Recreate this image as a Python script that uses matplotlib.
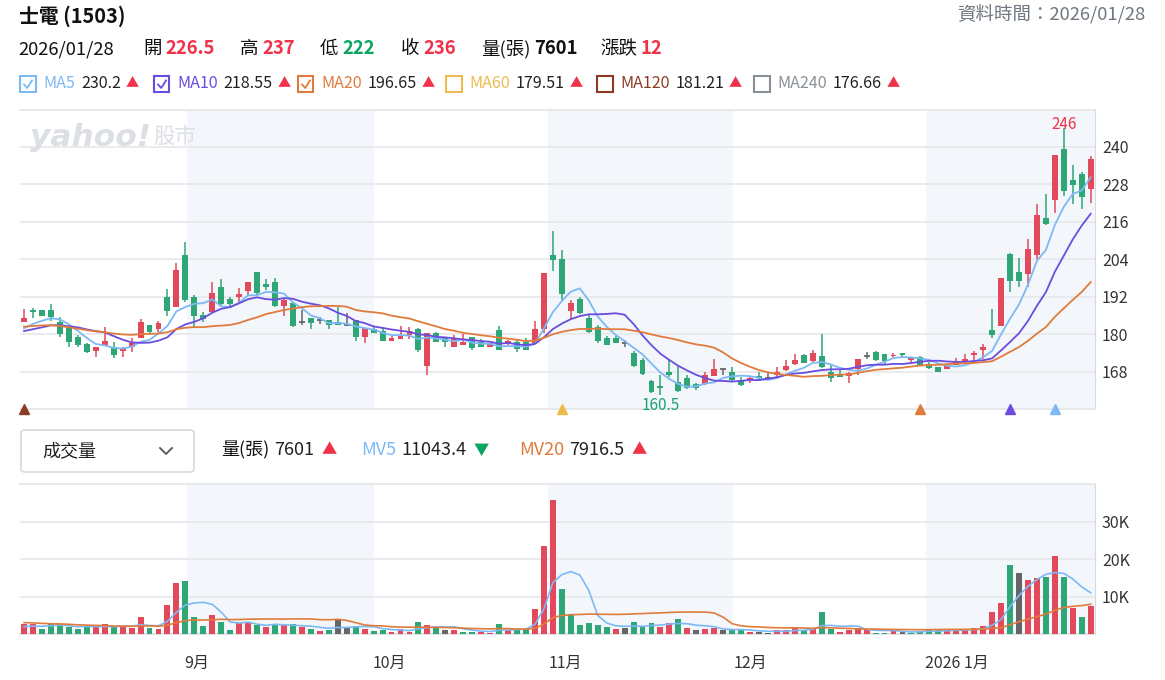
import matplotlib
matplotlib.use('Agg')
import matplotlib.pyplot as plt
import numpy as np
import pandas as pd
from matplotlib.patches import Rectangle, FancyBboxPatch
from matplotlib.lines import Line2D

plt.rcParams['font.family'] = ['Noto Sans CJK TC', 'DejaVu Sans']

W, H = 1165, 680

RED = '#E2495A'
GREEN = '#2FA676'
GRAY = '#666666'
MA_COLORS = {'MA5': '#7DB9F5', 'MA10': '#6B4CE0', 'MA20': '#E07B3C',
             'MA60': '#EDBB4C', 'MA120': '#8E3B22', 'MA240': '#8A8F96'}

# daily candles, 2025/08 .. 2026/01/28
opens = [183.8, 187.7, 187.6, 187.7, 184.0, 181.9, 179.2, 176.8, 174.6, 176.5,
         175.8, 174.6, 175.8, 178.9, 183.1, 181.7, 192.0, 188.6, 205.3, 192.0,
         186.1, 187.0, 195.2, 191.3, 191.8, 193.8, 200.0, 196.1, 196.8, 189.0,
         190.1, 184.0, 185.1, 184.5, 184.7, 184.0, 182.9, 184.7, 179.2, 181.7,
         181.1, 177.8, 178.6, 179.7, 181.7, 169.8, 180.3, 178.7, 175.8, 176.5,
         179.2, 177.6, 175.8, 181.3, 176.9, 177.4, 177.4, 177.1, 181.6, 205.3,
         204.1, 187.5, 191.3, 185.3, 182.2, 178.9, 178.9, 177.1, 174.1, 171.9,
         165.1, 163.4, 168.0, 164.8, 165.9, 164.1, 164.0, 166.7, 168.9, 167.8,
         165.5, 165.3, 166.7, 166.0, 166.9, 168.5, 170.5, 173.4, 171.5, 173.1,
         167.8, 167.2, 166.6, 168.9, 173.1, 174.2, 173.7, 173.0, 174.0, 171.7,
         172.6, 170.5, 169.4, 168.9, 170.0, 171.0, 173.3, 174.9, 181.3, 182.6,
         205.7, 200.0, 199.3, 205.3, 217.3, 222.9, 239.3, 229.3, 231.3, 226.5]
highs = [188.1, 188.5, 187.6, 189.7, 185.6, 182.4, 179.7, 177.1, 176.0, 182.4,
         177.6, 176.0, 178.7, 184.9, 183.1, 184.2, 194.5, 202.9, 209.6, 192.7,
         187.2, 196.8, 197.6, 192.0, 194.9, 196.8, 200.0, 197.6, 198.1, 191.5,
         190.1, 187.7, 185.1, 185.6, 184.7, 188.8, 186.9, 184.7, 181.9, 182.4,
         182.4, 179.7, 182.6, 182.4, 181.9, 180.3, 180.8, 178.7, 179.8, 180.0,
         179.2, 178.4, 177.3, 182.6, 178.1, 178.1, 178.7, 184.2, 199.7, 213.0,
         207.0, 190.9, 192.0, 186.1, 182.9, 179.5, 179.5, 178.1, 174.6, 172.3,
         165.3, 166.9, 172.0, 169.8, 166.9, 164.5, 168.0, 172.1, 168.9, 169.6,
         166.4, 166.4, 168.0, 167.7, 169.6, 171.7, 173.6, 173.6, 175.0, 180.0,
         170.1, 168.5, 168.0, 172.1, 174.4, 174.6, 173.7, 174.1, 174.0, 172.6,
         173.0, 171.2, 169.6, 170.1, 172.3, 173.6, 174.6, 176.8, 188.0, 198.1,
         206.1, 204.5, 210.5, 221.7, 224.9, 237.3, 246.0, 234.1, 231.8, 237.0]
lows = [183.8, 185.1, 185.9, 184.3, 179.2, 176.0, 175.8, 173.9, 172.8, 176.2,
        172.3, 172.6, 174.2, 178.9, 180.3, 180.8, 185.9, 188.6, 190.4, 182.4,
        183.8, 186.7, 189.3, 188.3, 190.4, 192.5, 192.5, 194.1, 188.8, 185.8,
        182.4, 182.9, 181.7, 183.2, 181.7, 182.9, 182.9, 177.8, 177.1, 180.3,
        177.8, 177.8, 178.6, 178.4, 174.2, 166.9, 177.4, 175.8, 175.8, 176.5,
        175.1, 175.8, 175.8, 174.9, 176.5, 174.2, 174.9, 177.1, 180.3, 200.2,
        191.0, 184.8, 186.5, 180.3, 177.1, 176.5, 177.1, 175.8, 169.6, 166.9,
        161.3, 160.5, 166.4, 161.6, 162.4, 162.1, 163.7, 166.7, 166.9, 165.1,
        163.4, 164.5, 165.3, 165.8, 166.2, 168.2, 170.2, 170.7, 171.2, 169.1,
        164.8, 166.2, 164.5, 166.9, 172.0, 171.5, 170.5, 172.6, 172.3, 170.7,
        170.1, 168.9, 167.8, 168.9, 170.0, 170.5, 170.7, 172.0, 178.9, 182.6,
        193.6, 195.0, 195.0, 204.0, 215.0, 218.9, 224.3, 221.7, 220.1, 222.0]
closes = [185.3, 187.0, 185.9, 185.6, 180.0, 177.4, 176.5, 174.4, 176.0, 177.8,
          173.3, 175.5, 177.3, 184.0, 180.8, 183.7, 187.4, 200.7, 190.9, 185.8,
          184.9, 193.3, 189.7, 189.6, 192.9, 196.8, 193.3, 195.0, 189.0, 190.9,
          182.7, 184.0, 183.5, 184.5, 182.9, 182.9, 182.9, 179.2, 181.9, 180.5,
          177.8, 178.9, 179.5, 181.1, 174.9, 180.3, 177.4, 177.4, 178.7, 177.4,
          175.5, 175.8, 177.1, 174.9, 177.8, 175.3, 174.9, 181.7, 199.7, 203.7,
          192.9, 190.1, 186.9, 180.6, 177.8, 176.5, 177.1, 177.1, 169.8, 167.3,
          161.6, 162.7, 166.9, 161.8, 162.7, 162.7, 166.9, 168.9, 168.9, 165.3,
          163.7, 166.0, 166.0, 166.0, 168.0, 169.8, 171.7, 170.7, 173.9, 169.4,
          165.9, 166.4, 167.5, 172.1, 173.1, 171.7, 171.5, 173.5, 173.5, 172.6,
          170.1, 169.1, 167.8, 169.8, 171.5, 172.1, 174.1, 175.8, 179.7, 198.1,
          197.0, 197.0, 207.3, 218.1, 215.2, 237.3, 225.9, 227.7, 224.0, 236.0]
volumes = [2680, 2680, 1340, 2590, 2680, 1790, 1340, 1790, 2320, 2680,
           1790, 1790, 1700, 4470, 1700, 1340, 7770, 13750, 14200, 4470,
           2140, 5090, 3300, 1070, 3040, 3300, 2410, 1790, 2410, 2320,
           2680, 1790, 1340, 800, 1070, 3750, 1790, 2140, 1340, 800,
           1070, 625, 1340, 625, 3300, 2410, 1960, 980, 980, 625,
           625, 625, 360, 2680, 980, 1250, 1250, 6700, 23570, 35900,
           12060, 5090, 2320, 3040, 2320, 1960, 1340, 1700, 3300, 1960,
           3040, 1960, 3040, 4020, 1700, 980, 1340, 1700, 980, 980,
           980, 625, 625, 360, 980, 980, 1700, 980, 1520, 5980,
           1340, 625, 980, 1700, 1250, 360, 360, 980, 625, 360,
           625, 980, 1340, 980, 980, 980, 1700, 2140, 5980, 8390,
           18400, 16430, 14470, 15090, 15360, 20720, 15360, 7050, 4470, 7601]

# sessions before the visible window (estimated from where the MA lines start)
prior_closes = [182, 183, 184, 185, 186, 185, 184, 184, 183, 182,
                181, 180, 179, 180, 180.5, 180, 181, 181.5, 181.7]
prior_volumes = [4200, 3800, 4500, 3600, 3900, 4100, 3500, 3700, 3900, 3800,
                 2600, 2300, 2500, 2200, 2400, 1800, 1700, 1900, 1720]

month_ticks = [19.3, 40.8, 60.4, 81.0, 104.1]
month_labels = ['9月', '10月', '11月', '12月', '2026 1月']
shaded_months = [(18.2, 39.0), (58.5, 79.1), (100.6, 119.6)]

signal_idx = [0, 60, 100, 110, 115]
signal_ma = ['MA120', 'MA60', 'MA20', 'MA10', 'MA5']


def px(x, y):
    return x / W, 1 - y / H


o = np.array(opens)
h = np.array(highs)
l = np.array(lows)
c = np.array(closes)
v = np.array(volumes, dtype=float)
idx = np.arange(len(c))
n_prior = len(prior_closes)

all_c = pd.Series(prior_closes + closes)
ma = {k: all_c.rolling(k).mean().values[n_prior:] for k in (5, 10, 20)}
all_v = pd.Series(prior_volumes + volumes, dtype=float)
mv5 = all_v.rolling(5).mean().values[n_prior:]
mv20 = all_v.rolling(20).mean().values[n_prior:]

candle_col = np.where(c > o, RED, np.where(c < o, GREEN, GRAY))
prev_c = np.concatenate([[prior_closes[-1]], c[:-1]])
vol_col = np.where(c > prev_c, RED, np.where(c < prev_c, GREEN, GRAY))

fig = plt.figure(figsize=(W / 100, H / 100), dpi=100)
ax = fig.add_axes([20 / W, 1 - 409 / H, 1075 / W, 299 / H])
axv = fig.add_axes([20 / W, 1 - 634 / H, 1075 / W, 150 / H])

xlim = (-0.45, 119.48)
for a in (ax, axv):
    a.set_xlim(*xlim)
    for s0, s1 in shaded_months:
        a.axvspan(s0, s1, color='#F3F6FA', zorder=0, lw=0)
    a.yaxis.tick_right()
    a.tick_params(axis='y', length=0, labelsize=11.5, colors='#333333', pad=5)
    a.tick_params(axis='x', length=0)
    a.spines['left'].set_visible(False)
    for side in ('top', 'bottom'):
        a.spines[side].set_color('#E3E5E9')
        a.spines[side].set_linewidth(1.2)
    a.spines['right'].set_color('#D6DAE0')

# price panel
ax.set_ylim(156.06, 251.74)
ax.set_yticks([168, 180, 192, 204, 216, 228, 240])
ax.grid(axis='y', color='#E6E8EC', lw=1.2, zorder=1)
ax.set_xticks([])

ax.vlines(idx, l, h, colors=candle_col, lw=1.1, zorder=3)
ax.bar(idx, np.abs(c - o), bottom=np.minimum(o, c), width=0.66,
       color=candle_col, zorder=4, lw=0)
flat = c == o
ax.hlines(c[flat], idx[flat] - 0.33, idx[flat] + 0.33, colors=GRAY, lw=1.3, zorder=4)

ax.plot(idx, ma[5], color=MA_COLORS['MA5'], lw=1.3, zorder=5)
ax.plot(idx, ma[10], color=MA_COLORS['MA10'], lw=1.3, zorder=5)
ax.plot(idx, ma[20], color=MA_COLORS['MA20'], lw=1.3, zorder=5)

hi = int(np.argmax(h))
ax.annotate(f'{h[hi]:g}', (hi, h[hi]), xytext=(0, -4), textcoords='offset points',
            ha='center', va='bottom', color='#F0334A', fontsize=11)
lo = int(np.argmin(l))
ax.annotate(f'{l[lo]:g}', (lo, l[lo]), xytext=(0, -1.5), textcoords='offset points',
            ha='center', va='top', color='#1FA070', fontsize=11)

for i, m in zip(signal_idx, signal_ma):
    ax.plot(i, 156.06, marker='^', color=MA_COLORS[m], ms=6.5, clip_on=False, zorder=6)

# volume panel
axv.set_ylim(0, 40100)
axv.set_yticks([10000, 20000, 30000])
axv.set_yticklabels(['10K', '20K', '30K'])
axv.grid(axis='y', color='#E6E8EC', lw=1.2, zorder=1)
axv.bar(idx, v, width=0.66, color=vol_col, zorder=3, lw=0)
axv.plot(idx, mv5, color=MA_COLORS['MA5'], lw=1.2, zorder=4)
axv.plot(idx, mv20, color=MA_COLORS['MA20'], lw=1.2, zorder=4)
axv.set_xticks(month_ticks)
axv.set_xticklabels(month_labels, fontsize=11.5, color='#333333')
axv.tick_params(axis='x', pad=15)
axv.spines['bottom'].set_color('#D9DCE1')

# watermark
fig.text(*px(30, 137), 'yahoo!', fontsize=22.5, fontweight='bold', style='italic',
         color='#DCDFE3', va='center', family='DejaVu Sans')
fig.text(*px(153, 137), '股市', fontsize=15.5, color='#DCDFE3', va='center')

renderer = fig.canvas.get_renderer()


def run(x, y, parts):
    # lay out (text, colour, weight, size, gap_after) pieces left to right
    for s, col, wt, size, gap in parts:
        t = fig.text(x / W, 1 - y / H, s, fontsize=size, color=col, fontweight=wt, va='center')
        x = t.get_window_extent(renderer).x1 + gap


K = '#111111'
R = '#F0334A'
G = '#0AA563'

# header
fig.text(*px(19, 16), '士電 (1503)', fontsize=14.3, fontweight='bold', color=K, va='center')
fig.text(*px(1145, 14), '資料時間：2026/01/28', fontsize=13.3, color='#6F7780',
         va='center', ha='right')

info = [(18, [('2026/01/28', K, 'normal')]),
        (143, [('開', K, 'normal'), ('226.5', R, 'bold')]),
        (240, [('高', K, 'normal'), ('237', R, 'bold')]),
        (320, [('低', K, 'normal'), ('222', G, 'bold')]),
        (401, [('收', K, 'normal'), ('236', R, 'bold')]),
        (481, [('量(張)', K, 'normal'), ('7601', K, 'bold')]),
        (600, [('漲跌', K, 'normal'), ('12', R, 'bold')])]
for x, parts in info:
    run(x, 49, [(s, col, wt, 13.3, 4) for s, col, wt in parts])

legend = [(20, 'MA5', '230.2', True), (154, 'MA10', '218.55', True),
          (298, 'MA20', '196.65', True), (446, 'MA60', '179.51', False),
          (597, 'MA120', '181.21', False), (754, 'MA240', '176.66', False)]
for x, name, val, checked in legend:
    col = MA_COLORS[name]
    bx, by = px(x, 92)
    fig.patches.append(Rectangle((bx, by), 15.5 / W, 15.5 / H, transform=fig.transFigure,
                                 fill=False, ec=col, lw=1.5))
    if checked:
        fig.lines.append(Line2D([(x + 4) / W, (x + 7.2) / W, (x + 12) / W],
                                [1 - 84.5 / H, 1 - 88 / H, 1 - 80.5 / H],
                                transform=fig.transFigure, color=col, lw=1.3))
    run(x + 23.5, 84, [(name, col, 'normal', 11.6, 5.5), (val, '#222222', 'normal', 11.6, 4.5),
                       ('▲', R, 'normal', 9.5, 0)])

# volume selector and legend
box = FancyBboxPatch(px(21, 472), 173 / W, 42 / H, boxstyle='round,pad=0,rounding_size=0.004',
                     transform=fig.transFigure, fc='white', ec='#D5D9DE', lw=1.2)
fig.patches.append(box)
fig.text(*px(42, 451), '成交量', fontsize=13, color='#222222', va='center')
fig.lines.append(Line2D([160 / W, 166 / W, 172 / W], [1 - 448 / H, 1 - 454 / H, 1 - 448 / H],
                        transform=fig.transFigure, color='#555555', lw=1.3))

vleg = [(221, '量(張)', K, '7601', '▲', R),
        (361, 'MV5', MA_COLORS['MA5'], '11043.4', '▼', G),
        (519, 'MV20', MA_COLORS['MA20'], '7916.5', '▲', R)]
for x, name, col, val, arrow, acol in vleg:
    run(x, 450, [(name, col, 'normal', 13, 5), (val, '#222222', 'normal', 13, 7),
                 (arrow, acol, 'normal', 11, 0)])

fig.savefig('out.png', dpi=100)
